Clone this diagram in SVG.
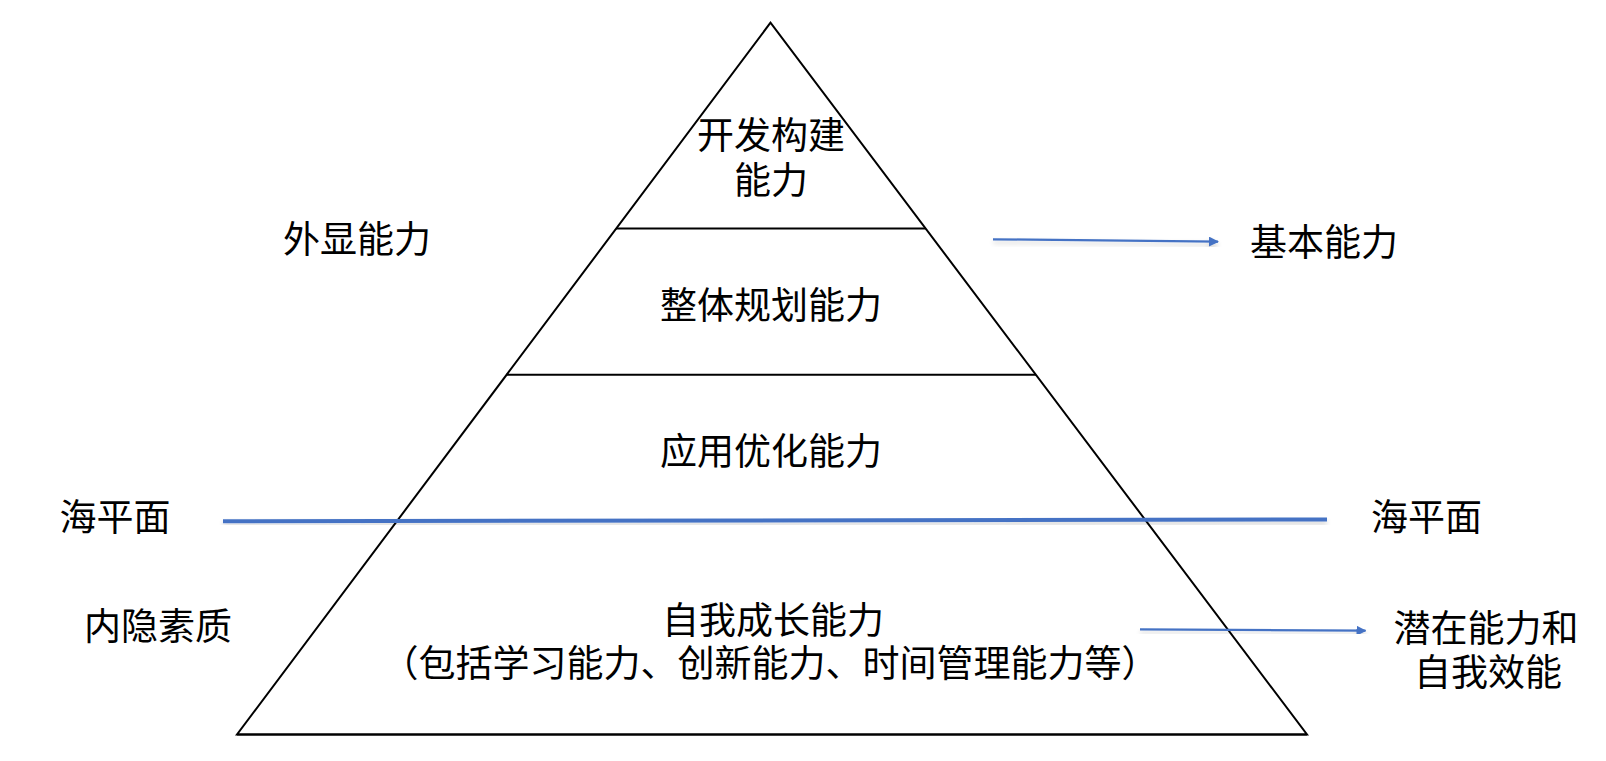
<svg xmlns="http://www.w3.org/2000/svg" width="1606" height="761" viewBox="0 0 1606 761">
<style>
.t{font-family:"Noto Sans CJK SC","Microsoft YaHei",sans-serif;font-size:37px;fill:#000;text-anchor:middle}
.blk{stroke:#000;fill:none;stroke-width:2}
.blue{stroke:#4472C4;fill:none}
</style>
<defs>
<marker id="ah" markerWidth="10" markerHeight="10" refX="9" refY="5" orient="auto" markerUnits="userSpaceOnUse">
<path d="M0,0 L10,5 L0,10 Z" fill="#4472C4"/>
</marker>
<filter id="sh" x="-5%" y="-200%" width="110%" height="500%">
<feGaussianBlur in="SourceAlpha" stdDeviation="2.5"/>
<feOffset dy="3"/>
<feComponentTransfer><feFuncA type="linear" slope="0.18"/></feComponentTransfer>
<feMerge><feMergeNode/><feMergeNode in="SourceGraphic"/></feMerge>
</filter>
</defs>
<rect width="1606" height="761" fill="#fff"/>
<g id="pyramid">
<polygon class="blk" points="770.5,22.7 237,734.5 1307,734.5" stroke-linejoin="miter"/>
<line class="blk" x1="237" y1="734.5" x2="1307" y2="734.5" stroke-width="2.5"/>
</g>
<g id="layer1"><line class="blk" x1="616" y1="228.4" x2="925.5" y2="228.4" stroke-width="2.5"/>
<text class="t" x="771" y="149">开发构建</text><text class="t" x="771" y="194">能力</text></g>
<g id="layer2"><line class="blk" x1="506" y1="374.8" x2="1036" y2="374.8" stroke-width="2.5"/>
<text class="t" x="771" y="318.5">整体规划能力</text></g>
<g id="layer3"><text class="t" x="771" y="465">应用优化能力</text></g>
<g id="layer4"><text class="t" x="773" y="634">自我成长能力</text>
<text class="t" x="770" y="677">（包括学习能力、创新能力、时间管理能力等）</text></g>
<g id="labels">
<text class="t" x="357" y="253">外显能力</text>
<text class="t" x="115" y="531">海平面</text>
<text class="t" x="158" y="640">内隐素质</text>
<text class="t" x="1426.5" y="531">海平面</text>
<text class="t" x="1324" y="256">基本能力</text>
<text class="t" x="1486" y="642">潜在能力和</text>
<text class="t" x="1488" y="686">自我效能</text>
</g>
<g id="connectors">
<line class="blue" x1="223" y1="521.3" x2="1327" y2="519.5" stroke-width="4" filter="url(#sh)"/>
<line class="blue" x1="993" y1="239.3" x2="1218" y2="241.7" stroke-width="2.2" marker-end="url(#ah)" filter="url(#sh)"/>
<line class="blue" x1="1140" y1="629.3" x2="1365.5" y2="630.7" stroke-width="2.2" marker-end="url(#ah)" filter="url(#sh)"/>
</g>
</svg>
